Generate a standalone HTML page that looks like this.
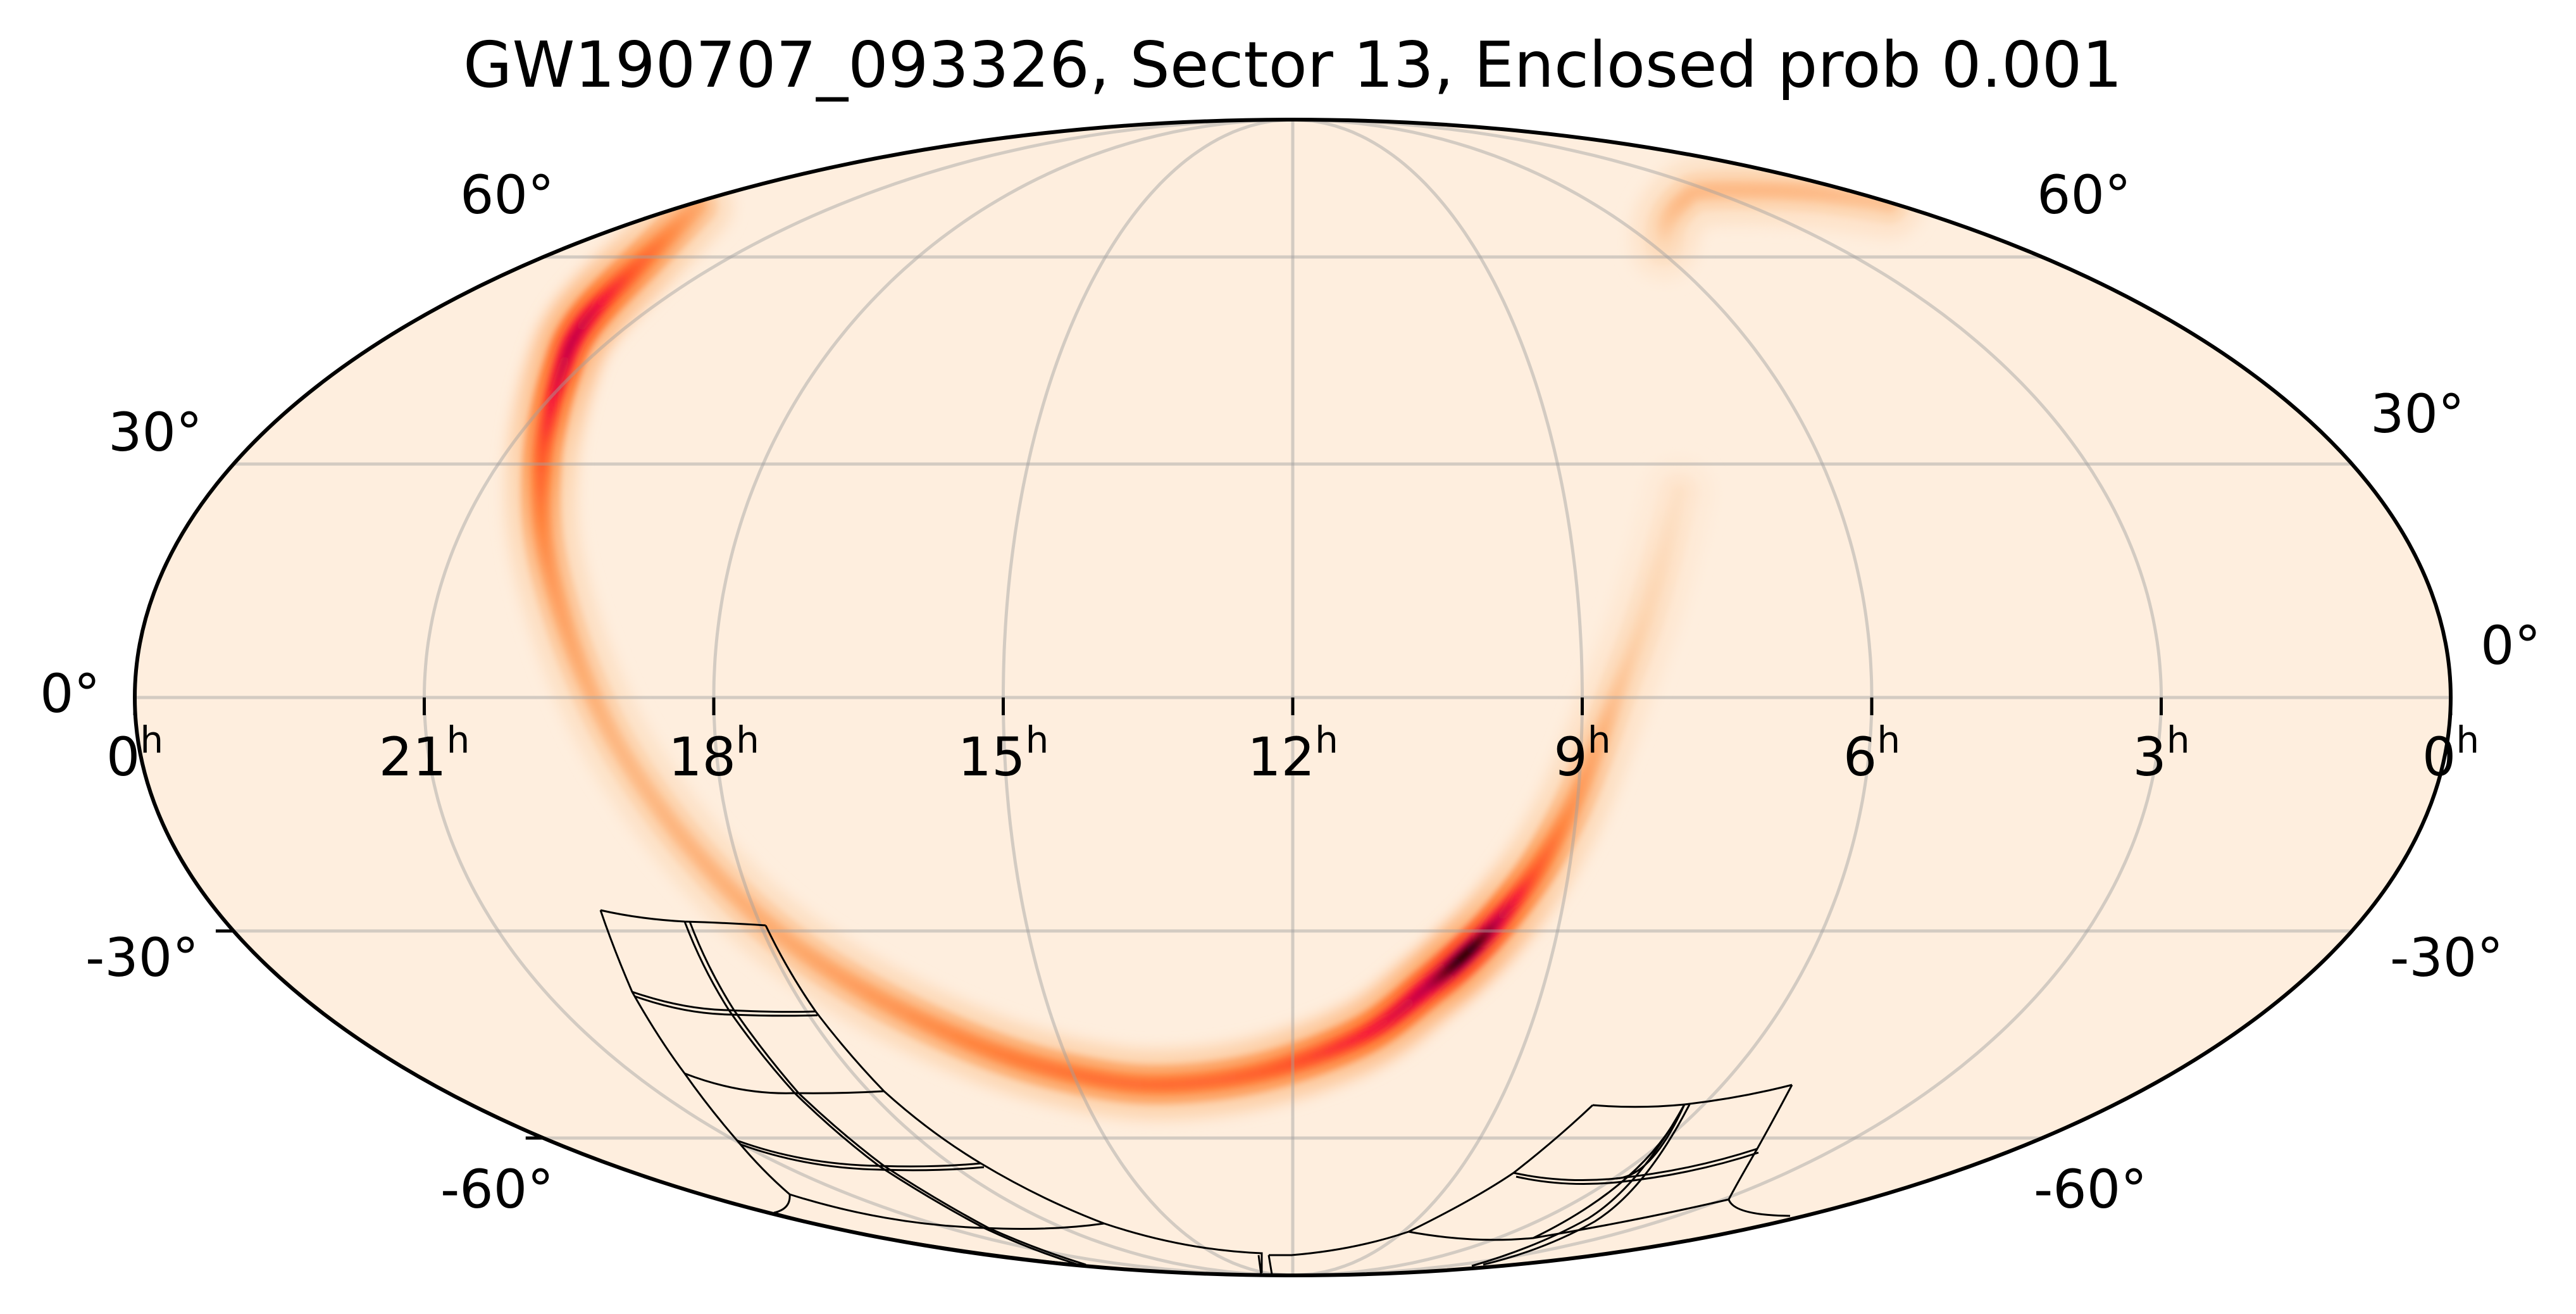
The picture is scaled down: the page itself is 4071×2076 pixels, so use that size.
<!DOCTYPE html>
<html><head><meta charset="utf-8">
<style>
html,body{margin:0;padding:0;background:#fff;}
svg{display:block;}
text{font-family:"DejaVu Sans","Liberation Sans",sans-serif;fill:#000;}
</style></head>
<body>
<svg id="s" width="4071" height="2076" viewBox="0 0 4071 2076" xmlns="http://www.w3.org/2000/svg">
<defs>
<clipPath id="ec"><ellipse cx="2043" cy="1102" rx="1830" ry="913"/></clipPath>
<filter id="bl" filterUnits="userSpaceOnUse" x="0" y="0" width="4071" height="2076"><feGaussianBlur stdDeviation="5"/></filter>
<filter id="bl2" filterUnits="userSpaceOnUse" x="0" y="0" width="4071" height="2076"><feGaussianBlur stdDeviation="12"/></filter>
</defs>
<ellipse cx="2043" cy="1102" rx="1830" ry="913" fill="#feeede"/>
<g id="band" clip-path="url(#ec)"></g>
<g id="grid" clip-path="url(#ec)" fill="none" stroke="rgba(160,160,160,0.45)" stroke-width="5"></g>
<g id="fp" fill="none" stroke="#000" stroke-width="3" clip-path="url(#ec)"></g>
<ellipse cx="2043" cy="1102" rx="1830" ry="913" fill="none" stroke="#000" stroke-width="6"/>
<g id="ticks" stroke="#000" stroke-width="5"></g>
<text x="2043" y="137" font-size="100" text-anchor="middle">GW190707_093326, Sector 13, Enclosed prob 0.001</text>
<g font-size="84">
<text x="727" y="337">60°</text>
<text x="3219" y="337">60°</text>
<text x="171" y="712">30°</text>
<text x="3746" y="683">30°</text>
<text x="63" y="1125">0°</text>
<text x="3920" y="1049">0°</text>
<text x="135" y="1542">-30°</text>
<text x="3777" y="1542">-30°</text>
<text x="696" y="1908">-60°</text>
<text x="3214" y="1908">-60°</text>
</g>
<g id="ra" font-size="84"></g>
</svg>
<script>
var NS="http://www.w3.org/2000/svg";
var cx=2043,cy=1102,A=1830,B=913;
function el(t,at,p){var e=document.createElementNS(NS,t);for(var k in at)e.setAttribute(k,at[k]);(p||document.getElementById('s')).appendChild(e);return e;}
function theta(lat){var p=lat*Math.PI/180;if(Math.abs(Math.abs(p)-Math.PI/2)<1e-9)return p;var t=p;for(var i=0;i<50;i++){var f=2*t+Math.sin(2*t)-Math.PI*Math.sin(p);t-=f/(2+2*Math.cos(2*t));}return t;}
function proj(ra,lat){var t=theta(lat);return [cx-A*((ra-12)/12)*Math.cos(t),cy-B*Math.sin(t)];}
var g=document.getElementById('grid');
[-60,-30,0,30,60].forEach(function(l){var y=cy-B*Math.sin(theta(l));el('line',{x1:0,x2:4071,y1:y,y2:y},g);});
for(var h=3;h<24;h+=3){var d='';for(var l=-90;l<=90;l+=1){var p=proj(h,l);d+=(l==-90?'M':'L')+p[0].toFixed(1)+' '+p[1].toFixed(1);}el('path',{d:d},g);}
var tk=document.getElementById('ticks');
for(var h=0;h<=24;h+=3){var x=cx-A+h/24*2*A;el('line',{x1:x,x2:x,y1:1102,y2:1130},tk);}
[-30,-60].forEach(function(l){var p=proj(24,l);el('line',{x1:p[0]-28,x2:p[0],y1:p[1],y2:p[1]},tk);});
var ra=document.getElementById('ra');
var labs=[[0,'0'],[3,'21'],[6,'18'],[9,'15'],[12,'12'],[15,'9'],[18,'6'],[21,'3'],[24,'0']];
labs.forEach(function(L){var x=cx-A+L[0]/24*2*A;var t=el('text',{x:x,y:1225,'text-anchor':'middle'},ra);t.textContent=L[1];var s=el('tspan',{'font-size':'58',dy:'-36'},t);s.textContent='h';});
var st=[[0,[254,238,222]],[0.15,[253,214,178]],[0.3,[253,172,112]],[0.45,[255,130,60]],[0.6,[255,82,40]],[0.72,[245,22,60]],[0.85,[190,0,72]],[0.93,[110,0,25]],[1,[40,0,5]]];
function cm(v){v=Math.max(0,Math.min(1,v));for(var i=1;i<st.length;i++){if(v<=st[i][0]){var a=st[i-1],b=st[i],f=(v-a[0])/(b[0]-a[0]);return 'rgb('+[0,1,2].map(function(k){return Math.round(a[1][k]+(b[1][k]-a[1][k])*f);}).join(',')+')';}}return 'rgb(40,0,5)';}
var S=2.596;
var pts=[[425,125,.3],[395,155,.5],[365,185,.72],[350,205,.82],[342,225,.8],[335,250,.7],[330,280,.58],[330,320,.45],[338,360,.36],[355,410,.3],[380,460,.26],[420,515,.27],[470,565,.3],[530,605,.36],[600,638,.45],[660,655,.5],[710,660,.52],[770,652,.56],[830,630,.7],[870,600,.85],[893,580,1],[912,560,.85],[935,530,.6],[955,495,.42],[970,460,.32],[985,420,.22],[1000,380,.16],[1012,340,.12],[1022,300,.08]];
var pts2=[[1013,150,.12],[1015,135,.2],[1025,122,.25],[1040,116,.25],[1100,117,.25],[1150,124,.22]];
function smooth(P){var o=[];for(var i=0;i<P.length-1;i++){var p0=P[Math.max(0,i-1)],p1=P[i],p2=P[i+1],p3=P[Math.min(P.length-1,i+2)];for(var k=0;k<8;k++){var t=k/8,t2=t*t,t3=t2*t;var r=[0,1,2].map(function(j){return 0.5*((2*p1[j])+(-p0[j]+p2[j])*t+(2*p0[j]-5*p1[j]+4*p2[j]-p3[j])*t2+(-p0[j]+3*p1[j]-3*p2[j]+p3[j])*t3);});o.push(r);}}o.push(P[P.length-1]);return o;}
var band=document.getElementById('band');
function drawBand(P){var Q=smooth(P);var layers=[[110,0.3,'bl2'],[62,0.6,'bl'],[32,0.85,'bl'],[14,1.0,'bl']];layers.forEach(function(L){var gg=el('g',{filter:'url(#'+L[2]+')','stroke-linecap':'round',fill:'none'},band);for(var i=0;i<Q.length-1;i++){var v=(Q[i][2]+Q[i+1][2])/2*L[1];el('line',{x1:Q[i][0]*S,y1:Q[i][1]*S,x2:Q[i+1][0]*S,y2:Q[i+1][1]*S,stroke:cm(v),'stroke-width':L[0]},gg);}});}
drawBand(pts);drawBand(pts2);
var fp=document.getElementById('fp');
var paths=[
"M949 1438 Q1010 1452 1082 1456 Q1150 1458 1210 1462",
"M949 1438 Q970 1500 999 1567 Q1040 1640 1082 1696 Q1120 1750 1165 1802 Q1205 1850 1248 1887 Q1250 1910 1223 1916",
"M1082 1456 Q1110 1530 1152 1596 Q1200 1665 1256 1727 Q1320 1790 1389 1842 Q1470 1895 1555 1940 Q1630 1975 1704 1998",
"M1090 1456 Q1118 1530 1160 1596 Q1208 1665 1262 1727 Q1328 1790 1397 1842 Q1478 1895 1562 1940 Q1640 1975 1716 1998",
"M1210 1462 Q1245 1535 1289 1598 Q1340 1665 1397 1724 Q1470 1790 1550 1838 Q1645 1895 1745 1933 Q1870 1975 1994 1980 L1994 2011",
"M999 1567 Q1080 1595 1152 1596 Q1230 1600 1289 1598",
"M1003 1574 Q1082 1602 1156 1603 Q1232 1606 1292 1604",
"M1082 1696 Q1170 1730 1256 1727 Q1330 1728 1397 1724",
"M1165 1802 Q1270 1840 1389 1842 Q1475 1845 1550 1838",
"M1170 1808 Q1275 1846 1392 1848 Q1478 1851 1555 1844",
"M1248 1887 Q1400 1935 1555 1940 Q1660 1945 1745 1933",
"M1223 1916 Q1400 1965 1704 1998",
"M2005 1983 Q2020 1983 2041 1983 Q2140 1975 2226 1946 Q2330 1895 2392 1853 Q2460 1800 2517 1746",
"M1989 1983 L1993 2013 M2005 1983 L2010 2013",
"M2517 1746 Q2590 1752 2662 1745 Q2750 1735 2832 1714",
"M2832 1714 Q2805 1765 2777 1815 Q2745 1870 2732 1895 Q2740 1920 2829 1921",
"M2392 1853 Q2470 1870 2553 1862 Q2670 1850 2777 1815",
"M2396 1859 Q2472 1876 2555 1868 Q2672 1856 2779 1821",
"M2226 1946 Q2330 1965 2423 1956 Q2580 1930 2732 1895",
"M2662 1745 Q2610 1860 2553 1862 M2662 1745 Q2600 1870 2423 1956",
"M2670 1745 Q2600 1880 2520 1930 Q2440 1975 2344 1998",
"M2662 1745 Q2590 1875 2510 1925 Q2430 1970 2326 2000"
];
paths.forEach(function(d){el('path',{d:d},fp);});
</script>
</body></html>
